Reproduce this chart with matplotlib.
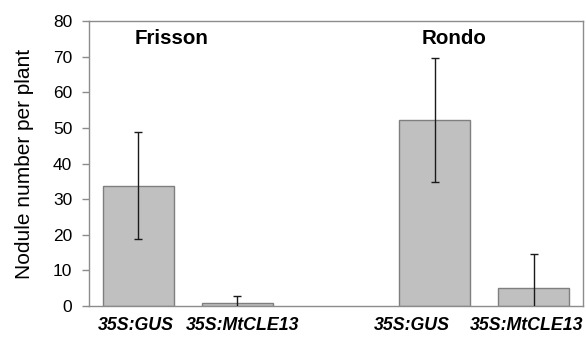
import numpy as np
import matplotlib
matplotlib.use("Agg")
import matplotlib.pyplot as plt
import matplotlib.transforms as mtransforms

plt.rcParams['font.family'] = ['Liberation Sans', 'DejaVu Sans']

labels = ["35S:GUS", "35S:MtCLE13", "35S:GUS", "35S:MtCLE13"]
positions = [0, 1, 3, 4]
means = [33.8, 0.9, 52.1, 5.1]
errs = [15.0, 1.9, 17.4, 9.4]
groups = ["Frisson", "Rondo"]
group_x = [0.34, 3.19]
label_shift = [-0.03, 0.05, -0.23, -0.07]  # labels sit off-centre in the original

fig = plt.figure(figsize=(5.86, 3.39), dpi=100)
ax = fig.add_axes([89/586, 1 - 306/339, (583-89)/586, (306-21)/339])

ax.bar(positions, means, width=0.72, color="#c0c0c0", edgecolor="#7f7f7f", linewidth=1.0, zorder=2)
ax.errorbar(positions, means, yerr=errs, fmt="none", ecolor="#1a1a1a", elinewidth=1.0,
            capsize=3, capthick=1.0, zorder=3)

ax.set_xlim(-0.5, 4.5)
ax.set_ylim(0, 80)
ax.set_yticks(np.arange(0, 81, 10))
ax.set_xticks([])
ax.tick_params(axis="y", length=5, color="#8c8c8c", width=1, labelsize=12.5, pad=7)
for s in ax.spines.values():
    s.set_color("#8c8c8c")
    s.set_linewidth(1.0)

trans = mtransforms.blended_transform_factory(ax.transData, fig.transFigure)
for p, lab, sh in zip(positions, labels, label_shift):
    ax.text(p + sh, 1 - 326/339, lab, transform=trans, ha="center", va="center",
            fontstyle="italic", fontweight="bold", fontsize=12.8, clip_on=False)

ax.set_ylabel("Nodule number per plant", fontsize=15, labelpad=14)

for g, gx in zip(groups, group_x):
    ax.text(gx, 75, g, ha="center", va="center", fontsize=14.8, fontweight="bold")

fig.savefig("out.png", dpi=100)
